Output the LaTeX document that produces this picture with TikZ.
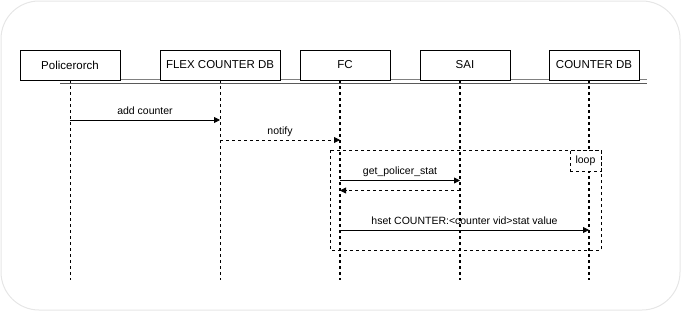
\documentclass[tikz,border=0pt]{standalone}
\usepackage{fontspec}
\setmainfont{Liberation Sans}
\usetikzlibrary{positioning,arrows.meta}
\definecolor{frameGray}{HTML}{E6E6E6}
\definecolor{barGray}{HTML}{808080}
\tikzset{
  actor/.style={draw,line width=0.8pt,fill=white,minimum height=30pt,inner sep=0pt,outer sep=0pt,font=\fontsize{11.5}{13}\selectfont},
  life/.style={line width=0.8pt,dash pattern=on 3pt off 3pt},
  msg/.style={line width=0.8pt,-{Triangle[length=6pt,width=6pt]}},
  reply/.style={msg,dash pattern=on 3pt off 3pt},
  lbl/.style={font=\fontsize{10.5}{12}\selectfont,anchor=base,yshift=6pt,inner sep=0pt},
  frag/.style={draw,line width=0.8pt,dash pattern=on 3pt off 3pt}
}

\begin{document}
\begin{tikzpicture}[x=1pt,y=-1pt]
\useasboundingbox (0,0) rectangle (681,311);
\draw[frameGray,line width=1pt,rounded corners=38pt] (1,1) rectangle (680,310);

% header rule under the participants
\draw[barGray,line width=0.8pt] (60,79) -- (647,79);
\draw[barGray!70!black,line width=0.8pt] (60,83) -- (647,83);

% participants
\node[actor,minimum width=100pt] (pol) at (70,65) {Policerorch};
\node[actor,minimum width=120pt,right=40pt of pol] (flex) {FLEX COUNTER DB};
\node[actor,minimum width=90pt,right=20pt of flex] (fc) {FC};
\node[actor,minimum width=90pt,right=30pt of fc] (sai) {SAI};
\node[actor,minimum width=90pt,right=39pt of sai] (cdb) {COUNTER DB};

% lifelines
\coordinate (polTop) at (pol.south);
\coordinate (flexTop) at (flex.south);
\coordinate (fcTop) at ([xshift=-5pt]fc.south);
\coordinate (saiTop) at ([xshift=-5pt]sai.south);
\coordinate (cdbTop) at ([xshift=-5pt]cdb.south);
\foreach \p in {pol,flex,fc,sai,cdb}
  \coordinate (\p End) at (\p Top |- 0,280);
\draw[life] (polTop) -- (polEnd);
\draw[life] (flexTop) -- (flexEnd);
\draw[life,line width=1.3pt] (fcTop) -- (fcEnd);
\draw[life,line width=1.3pt] (saiTop) -- (saiEnd);
\draw[life,line width=1.1pt] (cdbTop) -- (cdbEnd);

% loop fragment
\node[frag,fill=white,minimum width=31pt,minimum height=21pt,inner sep=0pt,
      font=\fontsize{10.5}{12}\selectfont] (loopTag) at (585.5,160.5) {loop};
\coordinate (loopNW) at (330,150);
\coordinate (loopSE) at (601,250);
\draw[frag] (loopNW) rectangle (loopSE);

% messages
\draw[msg] (polTop |- 0,120) -- node[lbl] {add counter} (flexTop |- 0,120);
\draw[reply] (flexTop |- 0,140) -- node[lbl] {notify} (fcTop |- 0,140);
\draw[msg] (fcTop |- 0,180.5) -- node[lbl] {get\_policer\_stat} (saiTop |- 0,180.5);
\draw[reply] (saiTop |- 0,190.5) -- (fcTop |- 0,190.5);
\draw[msg] (fcTop |- 0,230) -- node[lbl] {hset COUNTER:<counter vid>stat value} (cdbTop |- 0,230);
\end{tikzpicture}
\end{document}
